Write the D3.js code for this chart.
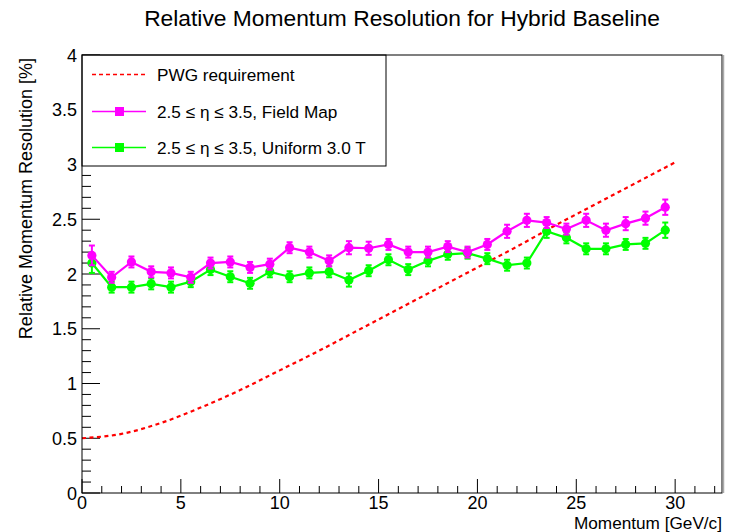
<!DOCTYPE html>
<html><head><meta charset="utf-8">
<script src="https://cdn.jsdelivr.net/npm/d3@7"></script>
<style>body{margin:0;background:#fff}svg{display:block;font-family:"Liberation Sans",Arial,sans-serif}</style>
</head><body>
<svg id="c" width="729" height="532"></svg>
<script>
const momentum = [0.5,1.5,2.5,3.5,4.5,5.5,6.5,7.5,8.5,9.5,10.5,11.5,12.5,13.5,14.5,15.5,16.5,17.5,18.5,19.5,20.5,21.5,22.5,23.5,24.5,25.5,26.5,27.5,28.5,29.5];
const fieldMap = [2.17,1.97,2.11,2.02,2.01,1.97,2.10,2.11,2.06,2.09,2.24,2.20,2.12,2.24,2.235,2.27,2.20,2.20,2.25,2.20,2.27,2.39,2.49,2.47,2.41,2.49,2.40,2.46,2.51,2.61];
const fieldMapErr = [0.09,0.05,0.05,0.05,0.05,0.05,0.05,0.05,0.05,0.05,0.05,0.05,0.05,0.06,0.06,0.05,0.05,0.05,0.05,0.05,0.05,0.06,0.06,0.05,0.05,0.06,0.06,0.06,0.06,0.07];
const uniform = [2.10,1.88,1.88,1.91,1.88,1.93,2.04,1.975,1.915,2.02,1.975,2.01,2.02,1.945,2.03,2.13,2.04,2.12,2.18,2.19,2.14,2.08,2.10,2.39,2.33,2.23,2.23,2.27,2.28,2.40];
const uniformErr = [0.09,0.05,0.05,0.05,0.05,0.05,0.05,0.05,0.05,0.05,0.05,0.05,0.05,0.06,0.05,0.05,0.05,0.05,0.05,0.05,0.05,0.05,0.05,0.06,0.05,0.05,0.05,0.05,0.05,0.07];
const pwgMomentum = [0,2,4,6,8,10,12,14,16,18,20,22,24,26,28,30];
const pwgRequirement = [0.50,0.54,0.64,0.78,0.94,1.12,1.30,1.49,1.68,1.87,2.06,2.25,2.45,2.64,2.83,3.02];
const xTicks = [0,5,10,15,20,25,30];
const yTicks = [0,0.5,1,1.5,2,2.5,3,3.5,4];
const yTickLabels = ["0","0.5","1","1.5","2","2.5","3","3.5","4"];
const legendLabels = ["PWG requirement","2.5 \u2264 \u03b7 \u2264 3.5, Field Map","2.5 \u2264 \u03b7 \u2264 3.5, Uniform 3.0 T"];
const titleText = "Relative Momentum Resolution for Hybrid Baseline";
const xTitle = "Momentum [GeV/c]";
const yTitle = "Relative Momentum Resolution [%]";

const svg = d3.select("#c");
const L = 82, R = 722, T = 55, B = 493;
const x = d3.scaleLinear().domain([0, 32.37]).range([L, R]);
const y = d3.scaleLinear().domain([0, 4]).range([B, T]);

svg.append("text").attr("x", 402).attr("y", 26).attr("text-anchor", "middle")
  .attr("font-size", 22.8).attr("fill", "#000").text(titleText);

const ax = svg.append("g");
const xMinor = d3.range(0, 33, 1);
ax.selectAll(".xm").data(xMinor).join("line")
  .attr("x1", d => x(d)).attr("x2", d => x(d)).attr("y1", B)
  .attr("y2", d => d % 5 === 0 ? B - 14 : B - 7).attr("stroke", "#000").attr("stroke-width", 1);
const yMinor = d3.range(0, 41, 1).map(d => d / 10);
ax.selectAll(".ym").data(yMinor).join("line")
  .attr("y1", d => y(d)).attr("y2", d => y(d)).attr("x1", L)
  .attr("x2", (d, i) => i % 5 === 0 ? L + 18 : L + 9).attr("stroke", "#000").attr("stroke-width", 1);

ax.selectAll(".xl").data(xTicks).join("text")
  .attr("x", d => x(d)).attr("y", 508.5).attr("text-anchor", "middle")
  .attr("font-size", 18).text(d => d);
ax.selectAll(".yl").data(yTicks).join("text")
  .attr("x", 77).attr("y", d => y(d) + 6.5).attr("text-anchor", "end")
  .attr("font-size", 18).text((d, i) => yTickLabels[i]);

svg.append("text").attr("x", R).attr("y", 528.5).attr("text-anchor", "end")
  .attr("font-size", 17.2).text(xTitle);
svg.append("text").attr("transform", "translate(32,58) rotate(-90)").attr("text-anchor", "end")
  .attr("font-size", 18).text(yTitle);

const pwg = pwgMomentum.map((p, i) => [p, pwgRequirement[i]]);
svg.append("path").datum(pwg)
  .attr("d", d3.line().x(d => x(d[0])).y(d => y(d[1])).curve(d3.curveMonotoneX))
  .attr("fill", "none").attr("stroke", "#ff0000").attr("stroke-width", 2.2)
  .attr("stroke-dasharray", "4,3.5");

function series(vals, errs, color) {
  const g = svg.append("g");
  const pts = momentum.map((m, i) => ({m, v: vals[i], e: errs[i]}));
  g.append("path").datum(pts)
    .attr("d", d3.line().x(d => x(d.m)).y(d => y(d.v)))
    .attr("fill", "none").attr("stroke", color).attr("stroke-width", 2.2);
  g.selectAll(".eb").data(pts).join("line")
    .attr("x1", d => x(d.m)).attr("x2", d => x(d.m))
    .attr("y1", d => y(d.v - d.e)).attr("y2", d => y(d.v + d.e))
    .attr("stroke", color).attr("stroke-width", 2);
  g.selectAll(".ct").data(pts).join("line")
    .attr("x1", d => x(d.m) - 3).attr("x2", d => x(d.m) + 3)
    .attr("y1", d => y(d.v + d.e)).attr("y2", d => y(d.v + d.e))
    .attr("stroke", color).attr("stroke-width", 2);
  g.selectAll(".cb").data(pts).join("line")
    .attr("x1", d => x(d.m) - 3).attr("x2", d => x(d.m) + 3)
    .attr("y1", d => y(d.v - d.e)).attr("y2", d => y(d.v - d.e))
    .attr("stroke", color).attr("stroke-width", 2);
  g.selectAll("circle").data(pts).join("circle")
    .attr("cx", d => x(d.m)).attr("cy", d => y(d.v)).attr("r", 4.6).attr("fill", color);
}
series(uniform, uniformErr, "#00ff00");
series(fieldMap, fieldMapErr, "#ff00ff");

const lg = svg.append("g");
lg.append("rect").attr("x", 82).attr("y", 55).attr("width", 304).attr("height", 111)
  .attr("fill", "#fff").attr("stroke", "#000").attr("stroke-width", 1);
const rowsY = [74.5, 111.5, 147.5];
lg.append("line").attr("x1", 92).attr("x2", 146).attr("y1", rowsY[0]).attr("y2", rowsY[0])
  .attr("stroke", "#ff0000").attr("stroke-width", 1.3).attr("stroke-dasharray", "4,3");
[["#ff00ff", 1], ["#00ff00", 2]].forEach(([c, i]) => {
  lg.append("line").attr("x1", 92).attr("x2", 146).attr("y1", rowsY[i]).attr("y2", rowsY[i])
    .attr("stroke", c).attr("stroke-width", 1.4);
  lg.append("rect").attr("x", 115).attr("y", rowsY[i] - 4.5).attr("width", 9).attr("height", 9).attr("fill", c);
});
lg.selectAll(".lt").data(legendLabels).join("text")
  .attr("x", 157).attr("y", (d, i) => rowsY[i] + 6).attr("font-size", 17.2).text(d => d);

svg.append("rect").attr("x", L).attr("y", T).attr("width", R - L).attr("height", B - T)
  .attr("fill", "none").attr("stroke", "#000").attr("stroke-width", 1);
svg.append("line").attr("x1", R + 1.5).attr("x2", R + 1.5).attr("y1", T).attr("y2", B)
  .attr("stroke", "#aaa").attr("stroke-width", 1.5);
</script>
</body></html>
